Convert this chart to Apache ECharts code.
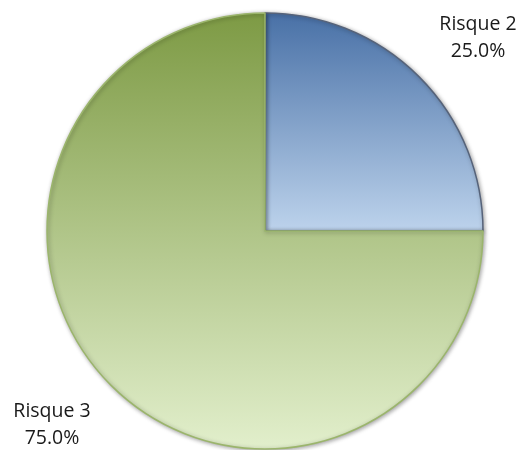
<!DOCTYPE html>
<html>
<head>
<meta charset="utf-8">
<script src="https://cdn.jsdelivr.net/npm/echarts@6/dist/echarts.min.js"></script>
<style>
  html, body { margin: 0; padding: 0; background: #ffffff; }
  #chart { width: 521px; height: 450px; }
</style>
</head>
<body>
<div id="chart"></div>
<script>
// Risk category shares
const categories = ['Risque 2', 'Risque 3'];
const values = [25, 75];

// Vertical gradient stops per slice (top colour, bottom colour)
const sliceTop = ['#4870a6', '#7d9a44'];
const sliceBottom = ['#bdd3ec', '#e2efcc'];
const sliceEdge = ['#56637a', '#9bb56c'];

// Label anchor points (pixels) for each category label
const labelPos = [
  { x: 478, y: 38 },
  { x: 52, y: 425 }
];

const chart = echarts.init(document.getElementById('chart'), null, { renderer: 'canvas' });

const seriesData = categories.map((name, i) => ({
  name: name,
  value: values[i],
  itemStyle: {
    color: new echarts.graphic.LinearGradient(0, 0, 0, 1, [
      { offset: 0, color: sliceTop[i] },
      { offset: 1, color: sliceBottom[i] }
    ]),
    borderColor: sliceEdge[i],
    borderWidth: 1.5,
    shadowColor: 'rgba(0,0,0,0.35)',
    shadowBlur: 4,
    shadowOffsetX: 1,
    shadowOffsetY: 1
  }
}));

chart.setOption({
  animation: false,
  backgroundColor: '#ffffff',
  series: [{
    type: 'pie',
    center: [265, 231],
    radius: [0, 218],
    startAngle: 90,
    clockwise: true,
    data: seriesData,
    label: {
      show: true,
      position: 'outside',
      overflow: 'none',
      formatter: p => p.name + '\n' + p.percent.toFixed(1) + '%',
      fontFamily: 'Open Sans, Noto Sans, sans-serif',
      fontSize: 19.5,
      lineHeight: 27,
      color: '#1a1a1a',
      align: 'center'
    },
    labelLine: { show: false },
    labelLayout: function (params) {
      const p = labelPos[params.dataIndex];
      return { x: p.x, y: p.y, align: 'center', verticalAlign: 'middle' };
    },
    emphasis: { disabled: true }
  }]
});
</script>
</body>
</html>
